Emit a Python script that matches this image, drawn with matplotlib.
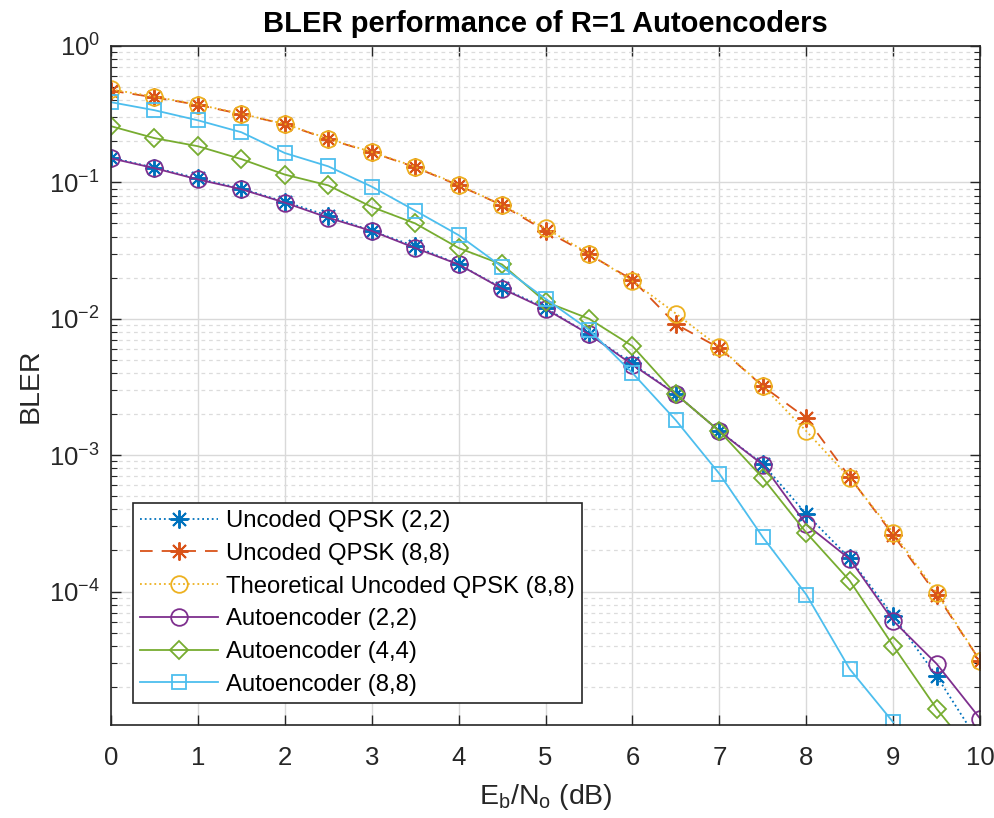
import numpy as np
import matplotlib
matplotlib.use("Agg")
import matplotlib.pyplot as plt
from matplotlib.ticker import LogLocator, NullFormatter, FixedLocator

# Eb/No axis (dB)
ebno = np.arange(0, 10.5, 0.5)

# BLER values
uncoded_22 = [0.152, 0.128, 0.107, 0.090, 0.072, 0.057, 0.044, 0.034, 0.025, 0.0168,
              0.0120, 0.0077, 0.0047, 0.0028, 0.0015, 0.00086, 0.00037, 0.000175,
              6.6e-5, 2.4e-5, 7.6e-6]
uncoded_88 = [0.47, 0.42, 0.37, 0.316, 0.267, 0.207, 0.166, 0.129, 0.095, 0.068,
              0.044, 0.0296, 0.0193, 0.0091, 0.0061, 0.0032, 0.00187, 0.00069,
              0.00026, 9.5e-5, 3.1e-5]
theory_88 = [0.48, 0.425, 0.372, 0.318, 0.268, 0.209, 0.167, 0.130, 0.096, 0.068,
             0.046, 0.030, 0.0188, 0.0109, 0.0062, 0.0032, 0.0015, 0.00068,
             0.00027, 9.8e-5, 3.1e-5]
ae_22 = [0.150, 0.127, 0.105, 0.089, 0.071, 0.055, 0.044, 0.033, 0.025, 0.0166,
         0.0118, 0.0077, 0.0046, 0.0028, 0.0015, 0.00085, 0.00031, 0.000173,
         6.1e-5, 2.95e-5, 1.17e-5]
ae_44 = [0.258, 0.211, 0.184, 0.148, 0.114, 0.095, 0.066, 0.050, 0.033, 0.025,
         0.0133, 0.0100, 0.0063, 0.0028, 0.0015, 0.00068, 0.00027, 0.00012,
         4.0e-5, 1.38e-5, 5.6e-6]
ae_88 = [0.387, 0.338, 0.285, 0.233, 0.164, 0.131, 0.093, 0.062, 0.041, 0.024,
         0.014, 0.0083, 0.0040, 0.0018, 0.00073, 0.00025, 9.5e-5, 2.7e-5,
         1.1e-5, np.nan, np.nan]

plt.rcParams['font.family'] = ['Liberation Sans', 'DejaVu Sans']
plt.rcParams['mathtext.default'] = 'regular'

fig = plt.figure(figsize=(9.95, 8.18), dpi=100)
ax = fig.add_axes([0.1116, 0.1137, 0.8734, 0.8301])

star = (8, 2, 0)  # matlab-like asterisk
lw = 1.3
ax.semilogy(ebno, uncoded_22, ':', color='#0072BD', marker=star, ms=13, mew=1.4,
            lw=lw, label='Uncoded QPSK (2,2)')
ax.semilogy(ebno, uncoded_88, '--', color='#D95319', marker=star, ms=13, mew=1.4,
            lw=lw, dashes=(7, 5), label='Uncoded QPSK (8,8)')
ax.semilogy(ebno, theory_88, ':', color='#EDB120', marker='o', ms=12, mew=1.3,
            mfc='none', lw=lw, label='Theoretical Uncoded QPSK (8,8)')
ax.semilogy(ebno, ae_22, '-', color='#7E2F8E', marker='o', ms=12, mew=1.3,
            mfc='none', lw=lw, label='Autoencoder (2,2)')
ax.semilogy(ebno, ae_44, '-', color='#77AC30', marker='D', ms=9.5, mew=1.3,
            mfc='none', lw=lw, label='Autoencoder (4,4)')
ax.semilogy(ebno, ae_88, '-', color='#4DBEEE', marker='s', ms=9.5, mew=1.3,
            mfc='none', lw=lw, label='Autoencoder (8,8)')

ax.set_xlim(0, 10)
ax.set_ylim(1.05e-5, 1)
ax.set_xticks(np.arange(0, 11, 1))
ax.yaxis.set_major_locator(FixedLocator([1e-4, 1e-3, 1e-2, 1e-1, 1e0]))
ax.yaxis.set_minor_locator(LogLocator(base=10, subs=np.arange(2, 10), numticks=20))
ax.yaxis.set_minor_formatter(NullFormatter())

ax.grid(which='major', color='#d9d9d9', lw=1.0, ls='-')
ax.grid(which='minor', axis='y', color='#dcdcdc', lw=0.9, ls=(0, (3, 3)))
ax.set_axisbelow(True)

ax.tick_params(which='both', direction='in', top=True, right=True,
               labelcolor='#262626', color='#262626')
ax.tick_params(axis='x', which='major', labelsize=18.5, pad=15)
ax.tick_params(axis='y', which='major', labelsize=18.5, pad=8)
ax.tick_params(which='major', length=7, width=1)
ax.tick_params(which='minor', length=4, width=0.8)
for s in ax.spines.values():
    s.set_color('#262626')
    s.set_linewidth(1.2)

ax.set_title('BLER performance of R=1 Autoencoders', fontsize=21,
             fontweight='bold', pad=10)
ax.set_xlabel(r'$\mathregular{E_b/N_o}$ (dB)', fontsize=20.5, color='#262626',
              labelpad=9)
ax.set_ylabel('BLER', fontsize=20.5, color='#262626', labelpad=4)

leg = ax.legend(loc='lower left', bbox_to_anchor=(0.0253, 0.0324), fontsize=17.2,
                frameon=True, fancybox=False, framealpha=1, edgecolor='#262626',
                handlelength=3.26, borderpad=0.3, labelspacing=0.45,
                handletextpad=0.33, borderaxespad=0)
leg.get_frame().set_linewidth(1.2)

fig.savefig('out.png', dpi=100)
